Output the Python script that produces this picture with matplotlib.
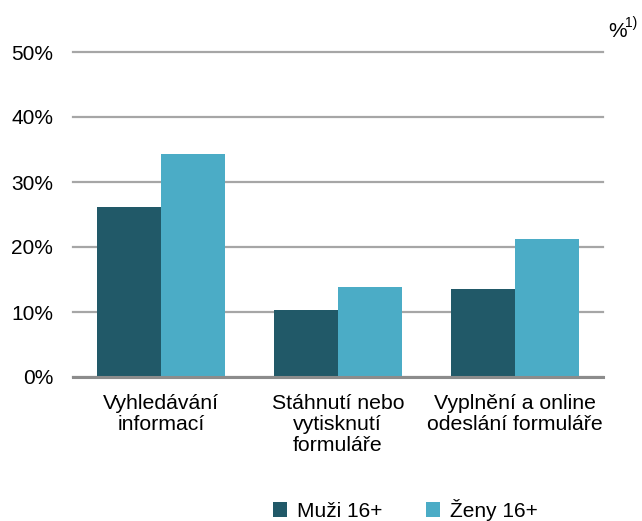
import matplotlib
matplotlib.use("Agg")
import matplotlib.pyplot as plt
import numpy as np
from matplotlib.patches import Patch

plt.rcParams['font.family'] = ['Liberation Sans', 'DejaVu Sans']

categories = ["Vyhledávání\ninformací", "Stáhnutí nebo\nvytisknutí\nformuláře", "Vyplnění a online\nodeslání formuláře"]
muzi = [26.1, 10.3, 13.5]
zeny = [34.3, 13.9, 21.2]
series_names = ["Muži 16+", "Ženy 16+"]
yticks = [0, 10, 20, 30, 40, 50]
ytick_labels = ["0%", "10%", "20%", "30%", "40%", "50%"]

c_dark = "#215968"
c_light = "#4BACC6"
fs = 15.0

fig = plt.figure(figsize=(6.42, 5.21), dpi=100)
left, right = 72.5 / 642, 603 / 642
bottom, top = 1 - 377 / 521, 1 - 52 / 521
ax = fig.add_axes([left, bottom, right - left, top - bottom])

x = np.arange(len(categories))
w = 0.362
ax.bar(x - w/2, muzi, width=w, color=c_dark, zorder=3)
ax.bar(x + w/2, zeny, width=w, color=c_light, zorder=3)

ax.set_xlim(-0.5, len(categories) - 0.5)
ax.set_ylim(0, 50)
ax.set_yticks(yticks)
ax.set_yticklabels(ytick_labels, fontsize=fs)
ax.set_xticks(x)
ax.set_xticklabels(categories, fontsize=15.3, linespacing=1.15)
ax.tick_params(axis='both', length=0)
ax.tick_params(axis='y', pad=14)
ax.tick_params(axis='x', pad=12)
for lab in ax.get_xticklabels():
    lab.set_ha('center')
    lab.set_va('top')

ax.grid(axis='y', color='#a6a6a6', linewidth=1.6, zorder=0)
for gl in ax.get_ygridlines():
    gl.set_clip_on(False)
ax.set_axisbelow(True)
for s in ['top', 'right', 'left']:
    ax.spines[s].set_visible(False)
ax.spines['bottom'].set_color('#8c8c8c')
ax.spines['bottom'].set_linewidth(2.2)
ax.spines['bottom'].set_zorder(4)

fig.text(608/642, 1 - 37/521, "%", fontsize=fs, ha='left', va='baseline')
fig.text(625/642, 1 - 27/521, "1)", fontsize=10, ha='left', va='baseline')

handles = [Patch(facecolor=c_dark), Patch(facecolor=c_light)]
fig.legend(handles, series_names, loc='center', bbox_to_anchor=(405/642, 1 - 510/521),
           ncol=2, frameon=False, fontsize=fs, handlelength=0.7, handleheight=0.7,
           handletextpad=0.45, columnspacing=2.1, borderpad=0.1)

fig.savefig("out.png", dpi=100)
